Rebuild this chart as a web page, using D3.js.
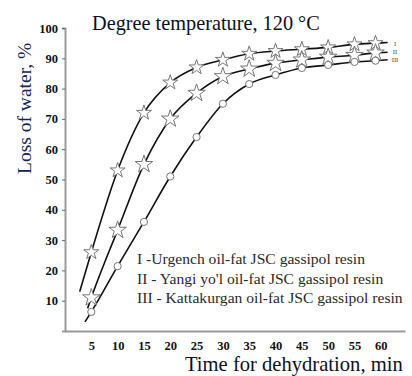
<!DOCTYPE html>
<html>
<head>
<meta charset="utf-8">
<script src="https://cdn.jsdelivr.net/npm/d3@7"></script>
<style>
  body { margin: 0; background: #fff; }
  svg { display: block; }
</style>
</head>
<body>
<div id="container"></div>
<script>
// time values (min) where markers sit
var times = [5, 10, 15, 20, 25, 30, 35, 40, 45, 50, 55, 59];
// loss of water, %
var seriesI   = [26, 53, 72, 82, 87, 89.5, 91.5, 92.4, 93, 93.6, 94.6, 95];
var seriesII  = [11, 33.3, 55, 70, 78.5, 84, 86.5, 88.4, 89.5, 90.4, 91, 91.8];
var seriesIII = [6.3, 21.4, 36, 51, 64, 75, 81.5, 84.5, 86.8, 87.8, 88.8, 89.2];
// where each curve begins and ends beyond the markers
var startPts = [[2.8, 13], [4.3, 7.5], [3.8, 3]];
var endPts = [[61.3, 95.2], [61.3, 92], [61.3, 89.5]];
var xTicks = [5, 10, 15, 20, 25, 30, 35, 40, 45, 50, 55, 60];
var yTicks = [10, 20, 30, 40, 50, 60, 70, 80, 90, 100];
var legendLabels = [
  "I -Urgench oil-fat JSC gassipol resin",
  "II - Yangi yo'l oil-fat JSC gassipol resin",
  "III - Kattakurgan oil-fat JSC gassipol resin"
];
var endLabels = ["I", "II", "III"];
var markers = ["star", "bigstar", "circle"];

var width = 412, height = 376;
var svg = d3.select("#container").append("svg")
    .attr("width", width).attr("height", height);

var x = d3.scaleLinear().domain([0, 64.6]).range([65, 405]);
var y = d3.scaleLinear().domain([0, 100]).range([331, 28]);

// axes
var xAxis = d3.axisBottom(x).tickValues(xTicks).tickSize(0).tickPadding(10);
var yAxis = d3.axisLeft(y).tickValues(yTicks).tickSize(3).tickPadding(4);

var gx = svg.append("g").attr("transform", "translate(0," + y(0) + ")").call(xAxis);
var gy = svg.append("g").attr("transform", "translate(" + x(0) + ",0)").call(yAxis);
[gx, gy].forEach(function(g) {
  g.select(".domain").attr("stroke", "#9a9a9a").attr("stroke-width", 2);
  g.selectAll(".tick line").attr("stroke", "#666");
  g.selectAll(".tick text")
    .attr("font-family", "Liberation Serif, serif")
    .attr("font-weight", "bold")
    .attr("font-size", 12.5)
    .attr("fill", "#111");
});

// curves
var line = d3.line()
    .x(function(d) { return x(d[0]); })
    .y(function(d) { return y(d[1]); })
    .curve(d3.curveMonotoneX);

var allSeries = [seriesI, seriesII, seriesIII];
allSeries.forEach(function(s, i) {
  var pts = [startPts[i]].concat(times.map(function(t, j) { return [t, s[j]]; })).concat([endPts[i]]);
  svg.append("path")
    .datum(pts)
    .attr("fill", "none")
    .attr("stroke", "#111")
    .attr("stroke-width", 1.6)
    .attr("d", line);
});

// markers
var star = d3.symbol().type(d3.symbolStar);
allSeries.forEach(function(s, i) {
  var g = svg.append("g");
  var data = times.map(function(t, j) { return [t, s[j]]; });
  if (markers[i] === "circle") {
    g.selectAll("circle").data(data).enter().append("circle")
      .attr("cx", function(d) { return x(d[0]); })
      .attr("cy", function(d) { return y(d[1]); })
      .attr("r", 3.6)
      .attr("fill", "#fff").attr("stroke", "#777").attr("stroke-width", 1);
  } else {
    var sz = markers[i] === "bigstar" ? 95 : 70;
    g.selectAll("path").data(data).enter().append("path")
      .attr("d", star.size(sz)())
      .attr("transform", function(d) { return "translate(" + x(d[0]) + "," + y(d[1]) + ")"; })
      .attr("fill", "#fff").attr("stroke", "#777").attr("stroke-width", 1);
  }
});

// small numerals stacked at the right end of the curves
endLabels.forEach(function(l, i) {
  svg.append("text")
    .attr("x", 395).attr("y", 46 + i * 8)
    .attr("text-anchor", "middle")
    .attr("font-family", "Liberation Serif, serif")
    .attr("font-size", 6.5)
    .attr("fill", "#444")
    .text(l);
});

// legend
legendLabels.forEach(function(l, i) {
  svg.append("text")
    .attr("x", 137).attr("y", 264 + i * 19.5)
    .attr("font-family", "Liberation Serif, serif")
    .attr("font-size", 15.6)
    .attr("fill", "#2a2a2a")
    .text(l);
});

// titles
svg.append("text")
  .attr("x", 92).attr("y", 30)
  .attr("font-family", "Liberation Serif, serif")
  .attr("font-size", 20.3)
  .attr("fill", "#0d1020")
  .text("Degree temperature, 120 \u00B0C");

svg.append("text")
  .attr("x", 185).attr("y", 371)
  .attr("font-family", "Liberation Serif, serif")
  .attr("font-size", 20.6)
  .attr("fill", "#0d1020")
  .text("Time for dehydration, min");

svg.append("text")
  .attr("transform", "translate(31,174) rotate(-90)")
  .attr("font-family", "Liberation Serif, serif")
  .attr("font-size", 19.5)
  .attr("fill", "#142457")
  .text("Loss of water, %");
</script>
</body>
</html>
